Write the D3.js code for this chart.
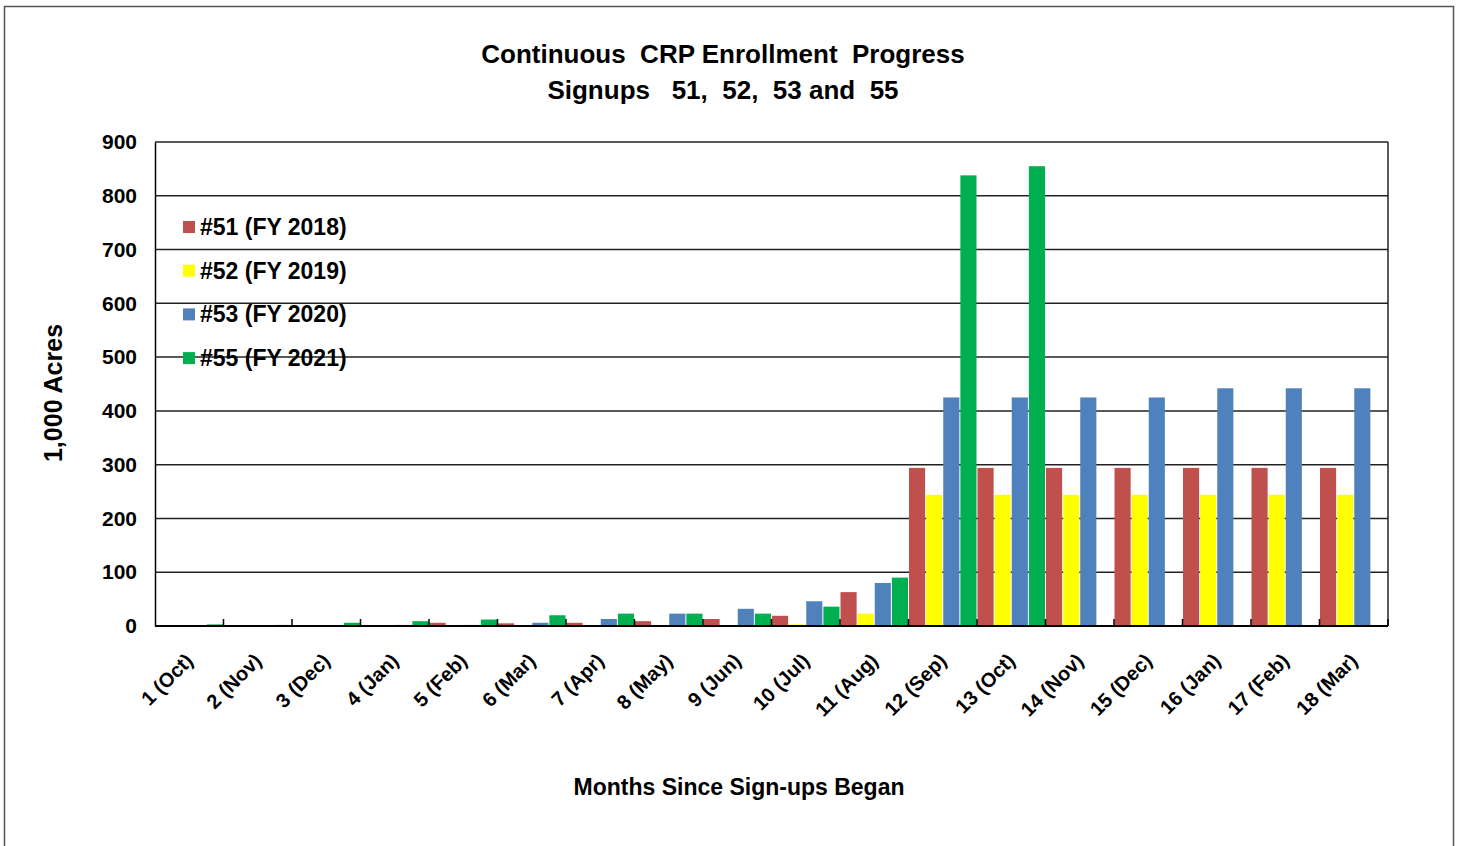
<!DOCTYPE html>
<html>
<head>
<meta charset="utf-8">
<script src="https://cdn.jsdelivr.net/npm/d3@7"></script>
<style>
  body { margin: 0; background: #fff; }
  text { font-family: "Liberation Sans", Arial, sans-serif; font-weight: bold; fill: #000; }
</style>
</head>
<body>
<svg id="chart" width="1460" height="846"></svg>
<script>
// month labels along the x axis
const months = ['1 (Oct)', '2 (Nov)', '3 (Dec)', '4 (Jan)', '5 (Feb)', '6 (Mar)', '7 (Apr)', '8 (May)',
  '9 (Jun)', '10 (Jul)', '11 (Aug)', '12 (Sep)', '13 (Oct)', '14 (Nov)', '15 (Dec)', '16 (Jan)',
  '17 (Feb)', '18 (Mar)'];

// series names
const seriesNames = ['#51 (FY 2018)', '#52 (FY 2019)', '#53 (FY 2020)', '#55 (FY 2021)'];

// 1,000 acres
const signup51 = [0, 0, 0, 0, 6, 5, 6, 9, 13, 19, 63, 294, 294, 294, 294, 294, 294, 294];
const signup52 = [0, 0, 0, 0, 0, 0, 0, 0, 0, 3, 23, 244, 244, 244, 244, 244, 244, 244];
const signup53 = [0, 0, 0, 2, 2, 6, 13, 23, 32, 46, 80, 425, 425, 425, 425, 442, 442, 442];
const signup55 = [3, 2, 6, 9, 12, 20, 23, 23, 23, 36, 90, 838, 855, null, null, null, null, null];

const yTicks = [0, 100, 200, 300, 400, 500, 600, 700, 800, 900];

const colors = ['#C0504D', '#FFFF00', '#4F81BD', '#00B050'];
const d3 = window.d3;

const allSeries = [signup51, signup52, signup53, signup55];

var margin = { top: 142, right: 72, bottom: 220, left: 155 },
  width = 1460 - margin.left - margin.right,
  height = 846 - margin.top - margin.bottom;

var svg = d3.select('#chart');

// outer chart border
svg.append('rect')
  .attr('x', 4.5).attr('y', 6.5)
  .attr('width', 1449).attr('height', 860)
  .style('fill', 'none')
  .style('stroke', '#555')
  .style('stroke-width', 1.5);

// title
svg.append('text')
  .attr('x', 723).attr('y', 63)
  .attr('text-anchor', 'middle')
  .style('font-size', '26px')
  .style('white-space', 'pre')
  .text('Continuous  CRP Enrollment  Progress');
svg.append('text')
  .attr('x', 723).attr('y', 99)
  .attr('text-anchor', 'middle')
  .style('font-size', '26px')
  .style('white-space', 'pre')
  .text('Signups   51,  52,  53 and  55');

var g = svg.append('g').attr('transform', `translate(${margin.left}, ${margin.top})`);

var x0 = d3.scaleBand()
  .domain(months)
  .range([0, width])
  .padding(0);

var x1 = d3.scaleBand()
  .domain(d3.range(4))
  .range([0, x0.bandwidth()])
  .padding(0);

var y = d3.scaleLinear()
  .domain([0, 900])
  .range([height, 0]);

// gridlines
g.append('g')
  .selectAll('line')
  .data(yTicks.slice(1))
  .enter()
  .append('line')
  .attr('x1', 0).attr('x2', width)
  .attr('y1', d => y(d)).attr('y2', d => y(d))
  .style('stroke', '#222')
  .style('stroke-width', 1.5);

// right border of plot area
g.append('line')
  .attr('x1', width).attr('x2', width)
  .attr('y1', 0).attr('y2', height)
  .style('stroke', '#222')
  .style('stroke-width', 1.5);

// bars
var groups = g.selectAll('.group')
  .data(months)
  .enter()
  .append('g')
  .attr('transform', d => `translate(${x0(d)}, 0)`);

groups.selectAll('rect')
  .data((d, i) => allSeries.map((s, k) => ({ k: k, v: s[i] })))
  .enter()
  .filter(d => d.v)
  .append('rect')
  .attr('x', d => x1(d.k) + 0.5)
  .attr('y', d => y(d.v))
  .attr('width', x1.bandwidth() - 1)
  .attr('height', d => height - y(d.v))
  .style('fill', d => colors[d.k]);

// y axis
var yAxis = g.append('g')
  .call(d3.axisLeft(y).tickValues(yTicks).tickSize(0).tickPadding(18));
yAxis.select('.domain').style('stroke', '#000').style('stroke-width', 1.5);
yAxis.selectAll('text')
  .style('font-size', '21px')
  .style('font-family', '"Liberation Sans", Arial, sans-serif');

// x axis with inside ticks between the months
var xAxis = g.append('g').attr('transform', `translate(0, ${height})`);
xAxis.append('line')
  .attr('x1', 0).attr('x2', width)
  .style('stroke', '#000')
  .style('stroke-width', 2);
xAxis.selectAll('.tick')
  .data(months)
  .enter()
  .append('line')
  .attr('x1', d => x0(d) + x0.bandwidth())
  .attr('x2', d => x0(d) + x0.bandwidth())
  .attr('y1', 0).attr('y2', -7)
  .style('stroke', '#000')
  .style('stroke-width', 1.5);
xAxis.selectAll('.label')
  .data(months)
  .enter()
  .append('text')
  .attr('transform', d => `translate(${x0(d) + x0.bandwidth() / 2 + 5}, 36) rotate(-45)`)
  .attr('text-anchor', 'end')
  .style('font-size', '20px')
  .text(d => d);

// axis titles
svg.append('text')
  .attr('transform', 'translate(62, 393) rotate(-90)')
  .attr('text-anchor', 'middle')
  .style('font-size', '25px')
  .text('1,000 Acres');

svg.append('text')
  .attr('x', 739).attr('y', 795)
  .attr('text-anchor', 'middle')
  .style('font-size', '23px')
  .text('Months Since Sign-ups Began');

// legend
var legend = svg.append('g').attr('transform', 'translate(183, 227)');
var items = legend.selectAll('g')
  .data(seriesNames)
  .enter()
  .append('g')
  .attr('transform', (d, i) => `translate(0, ${i * 43.7})`);
items.append('rect')
  .attr('x', 0).attr('y', -6)
  .attr('width', 12).attr('height', 12)
  .style('fill', (d, i) => colors[i]);
items.append('text')
  .attr('x', 17).attr('y', 8)
  .style('font-size', '23px')
  .text(d => d);
</script>
</body>
</html>
